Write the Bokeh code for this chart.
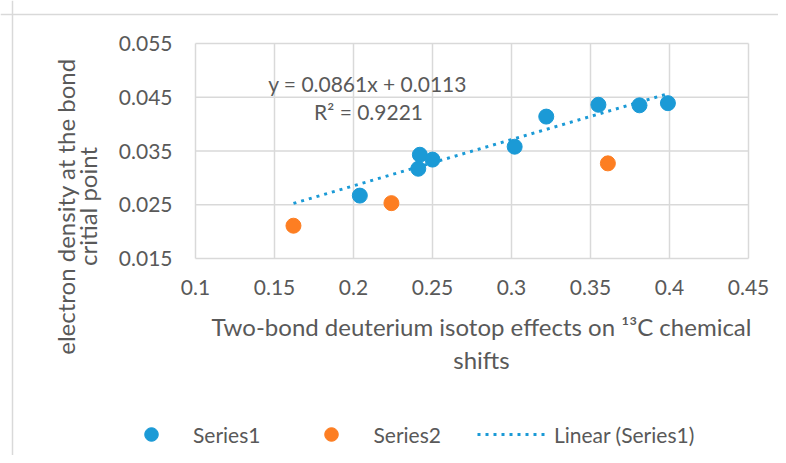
import math
from bokeh.plotting import figure
from bokeh.models import Label, Range1d, Legend, LegendItem, Span
from bokeh.core.properties import value
from bokeh.embed import file_html
from bokeh.resources import INLINE

# ---- data ----
series1_x = [0.204, 0.242, 0.241, 0.250, 0.302, 0.322, 0.355, 0.381, 0.399]
series1_y = [0.0267, 0.0343, 0.0317, 0.0334, 0.0358, 0.0414, 0.0436, 0.0435, 0.0439]
series2_x = [0.162, 0.224, 0.361]
series2_y = [0.0211, 0.0253, 0.0327]
trend_slope = 0.0861
trend_intercept = 0.0113
trend_x = [0.162, 0.399]
x_ticks = [0.1, 0.15, 0.2, 0.25, 0.3, 0.35, 0.4, 0.45]
x_tick_labels = ["0.1", "0.15", "0.2", "0.25", "0.3", "0.35", "0.4", "0.45"]
y_ticks = [0.015, 0.025, 0.035, 0.045, 0.055]
y_tick_labels = ["0.015", "0.025", "0.035", "0.045", "0.055"]
x_title_lines = ["Two-bond deuterium isotop effects on \u00b9\u00b3C chemical", "shifts"]
y_title_lines = ["electron density at the bond", "critial point"]
equation_text = "y = 0.0861x + 0.0113"
r2_text = "R\u00b2 = 0.9221"
trend_y = [trend_slope * x + trend_intercept for x in trend_x]

FONT = "Lato"
TXT = "#595959"
GRID = "#d9d9d9"
BLUE = "#1b9ad6"
ORANGE = "#fd7e22"

# plot area: x 0.1..0.45 -> px 195..748, y 0.015..0.055 -> px 258..43
W, H = 778, 455
xmin, xmax = x_ticks[0], x_ticks[-1]
ymin, ymax = y_ticks[0], y_ticks[-1]
kx = 553 / (xmax - xmin)
ky = 215 / (ymax - ymin)
x_range = Range1d(xmin - 195 / kx, xmax + (W - 748) / kx)
y_range = Range1d(ymin - (H - 258) / ky, ymax + 43 / ky)

p = figure(width=W, height=H, output_backend="svg", toolbar_location=None,
           x_range=x_range, y_range=y_range,
           min_border_left=0, min_border_right=0, min_border_top=0, min_border_bottom=0)
p.xaxis.visible = False
p.yaxis.visible = False
p.grid.visible = False
p.outline_line_color = None
p.background_fill_color = "white"
p.border_fill_color = "white"


def page(px, py):
    """screen units from canvas bottom-left for a point given from the top-left"""
    return px, H - py


# outer chart border (left and top edges visible)
p.add_layout(Span(location=12, location_units="screen", dimension="height",
                  line_color=GRID, line_width=1.5))
p.add_layout(Span(location=H - 14, location_units="screen", dimension="width",
                  line_color=GRID, line_width=1.5))

# gridlines from the tick arrays
p.segment(x0=x_ticks, y0=[ymin] * len(x_ticks), x1=x_ticks, y1=[ymax] * len(x_ticks),
          line_color=GRID, line_width=1.5)
p.segment(x0=[xmin] * len(y_ticks), y0=y_ticks, x1=[xmax] * len(y_ticks), y1=y_ticks,
          line_color=GRID, line_width=1.5)

# tick labels
p.text(x=x_ticks, y=[ymin] * len(x_ticks), text=x_tick_labels, text_align="center",
       text_baseline="alphabetic", y_offset=29, text_font=value(FONT),
       text_font_size="21px", text_color=TXT)
p.text(x=[xmin] * len(y_ticks), y=y_ticks, text=y_tick_labels, text_align="right",
       text_baseline="alphabetic", x_offset=-23, y_offset=0, text_font=value(FONT),
       text_font_size="21px", text_color=TXT)

# data
tr = p.line(trend_x, trend_y, line_color=BLUE, line_width=3, line_dash="3 5")
s1 = p.scatter(series1_x, series1_y, size=15, fill_color=BLUE, line_color=BLUE)
s2 = p.scatter(series2_x, series2_y, size=15, fill_color=ORANGE, line_color=ORANGE)

# trendline equation
eq_x = 0.2089
p.add_layout(Label(x=eq_x, y=0.0476, text=equation_text, text_align="center",
                   text_baseline="alphabetic", text_font=FONT, text_font_size="21px", text_color=TXT))
p.add_layout(Label(x=eq_x, y=0.0424, text=r2_text, text_align="center",
                   text_baseline="alphabetic", text_font=FONT, text_font_size="21px", text_color=TXT,
                   x_offset=1))

# axis titles
tx, ty1 = page(481, 326)
_, ty2 = page(481, 359)
p.add_layout(Label(x=tx, y=ty1, x_units="screen", y_units="screen", text=x_title_lines[0],
                   text_align="center", text_baseline="alphabetic", text_font=FONT,
                   text_font_size="24px", text_color=TXT))
p.add_layout(Label(x=tx, y=ty2, x_units="screen", y_units="screen", text=x_title_lines[1],
                   text_align="center", text_baseline="alphabetic", text_font=FONT,
                   text_font_size="24px", text_color=TXT))
yx1, yc = page(65, 206)
yx2, _ = page(87, 206)
p.add_layout(Label(x=yx1, y=yc, x_units="screen", y_units="screen", text=y_title_lines[0],
                   angle=math.pi / 2, text_align="center", text_baseline="alphabetic",
                   text_font=FONT, text_font_size="24px", text_color=TXT))
p.add_layout(Label(x=yx2, y=yc, x_units="screen", y_units="screen", text=y_title_lines[1],
                   angle=math.pi / 2, text_align="center", text_baseline="alphabetic",
                   text_font=FONT, text_font_size="24px", text_color=TXT))

# legend
lx, ly = page(116, 451)
legend = Legend(items=[LegendItem(label="Series1", renderers=[s1]),
                       LegendItem(label="Series2", renderers=[s2]),
                       LegendItem(label="Linear (Series1)", renderers=[tr])],
                location=(lx, ly), orientation="horizontal",
                glyph_width=70, glyph_height=34, label_height=34, label_standoff=7,
                spacing=36, padding=0, margin=0, border_line_color=None,
                background_fill_alpha=0, label_text_font=FONT, label_text_font_size="21px",
                label_text_color=TXT, label_text_baseline="middle")
p.add_layout(legend, "center")

open("out.html", "w").write(file_html(p, INLINE))
